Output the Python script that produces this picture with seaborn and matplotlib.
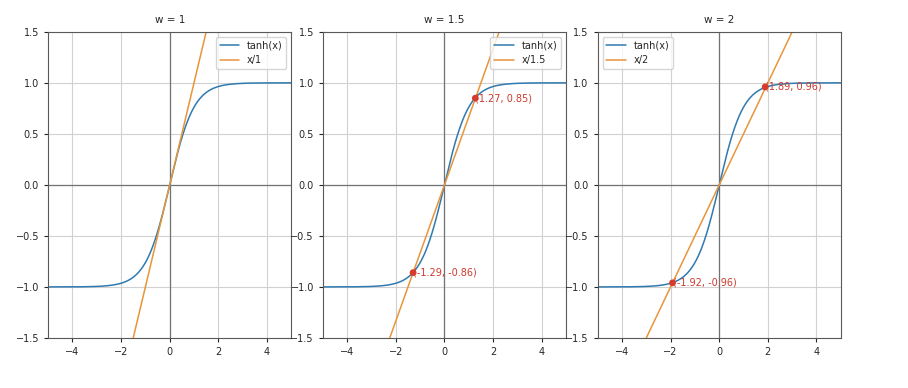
import numpy as np
import pandas as pd
import matplotlib
matplotlib.use("Agg")
import matplotlib.pyplot as plt
import seaborn as sns

# slopes 1/w and the intersection points shown on each panel
weights = [1, 1.5, 2]
weight_labels = ["1", "1.5", "2"]
cross_x = [[], [1.27, -1.29], [1.89, -1.92]]
cross_y = [[], [0.85, -0.86], [0.96, -0.96]]
x_ticks = [-4, -2, 0, 2, 4]
y_ticks = [-1.5, -1.0, -0.5, 0.0, 0.5, 1.0, 1.5]

sns.set_style("whitegrid", {"axes.edgecolor": "0.35", "grid.color": "0.82"})
plt.rcParams["font.family"] = ["DejaVu Sans"]
plt.rcParams["font.size"] = 7

fig, axes = plt.subplots(1, 3, figsize=(9.08, 3.88), dpi=100)
fig.subplots_adjust(left=0.053, right=0.926, top=0.918, bottom=0.129, wspace=0.13)

xs = np.linspace(-5, 5, 500)
for ax, w, lab, px, py in zip(axes, weights, weight_labels, cross_x, cross_y):
    df = pd.DataFrame({"x": xs, "tanh": np.tanh(xs), "lin": xs / w})
    ax.axhline(0, color="0.45", lw=0.9, zorder=1)
    ax.axvline(0, color="0.45", lw=0.9, zorder=1)
    sns.lineplot(data=df, x="x", y="tanh", ax=ax, color="#2f7ab0", lw=1.1, label="tanh(x)")
    sns.lineplot(data=df, x="x", y="lin", ax=ax, color="#e8953a", lw=1.1, label="x/" + lab)
    if px:
        sns.scatterplot(x=px, y=py, ax=ax, color="#d63a2a", s=24, edgecolor="none", zorder=6)
        for a, b in zip(px, py):
            ax.annotate(f"({a:.2f}, {b:.2f})", (a, b), xytext=(0, 0), textcoords="offset points",
                        ha="left", va="center", color="#cc3a2e", fontsize=7, zorder=5)
    ax.set_xlim(-5, 5)
    ax.set_ylim(-1.5, 1.5)
    ax.set_xticks(x_ticks)
    ax.set_yticks(y_ticks)
    ax.set_xlabel("")
    ax.set_ylabel("")
    ax.set_title("w = " + lab, fontsize=7.5)
    ax.tick_params(axis="both", labelsize=7, length=3, left=True, bottom=True)
    ax.legend(loc="upper right" if w < 2 else "upper left", fontsize=7, frameon=True)

fig.savefig("out.png", dpi=100)
